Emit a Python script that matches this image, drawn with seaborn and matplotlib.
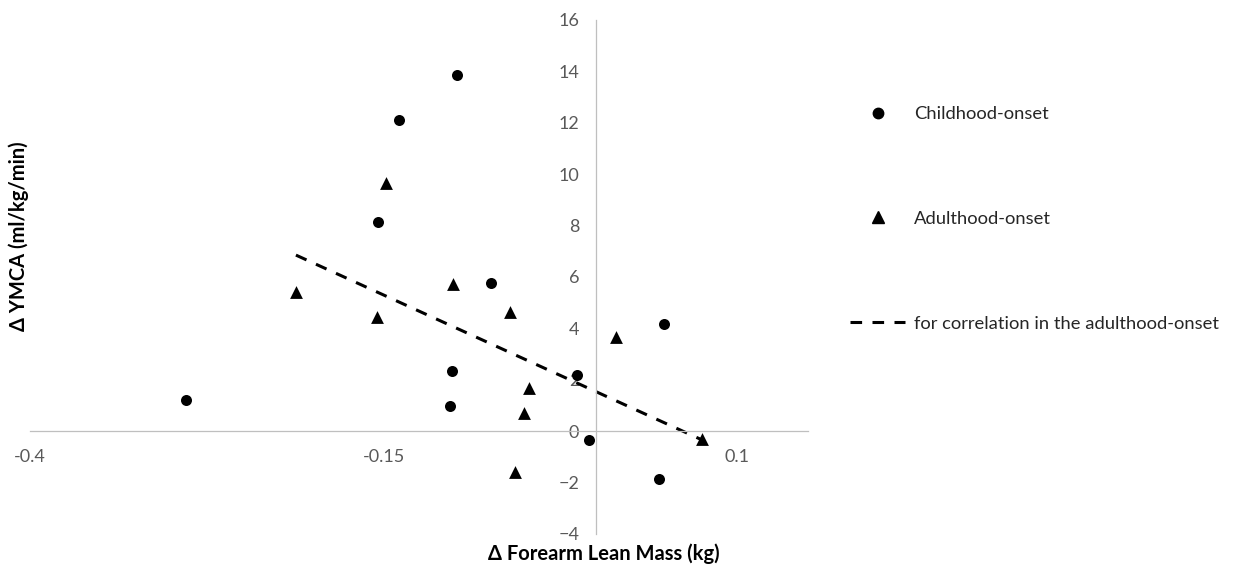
import numpy as np
import pandas as pd
import matplotlib
matplotlib.use("Agg")
import matplotlib.pyplot as plt
import seaborn as sns
from matplotlib.lines import Line2D

# Change in forearm lean mass (kg) vs change in YMCA score (ml/kg/min)
child_x = [-0.290, -0.098, -0.139, -0.154, -0.074, -0.102, -0.103, -0.013, -0.005, 0.048, 0.045]
child_y = [1.21, 13.86, 12.10, 8.15, 5.75, 2.34, 0.97, 2.18, -0.36, 4.16, -1.87]

adult_x = [-0.212, -0.148, -0.155, -0.101, -0.061, -0.047, -0.051, -0.057, 0.014, 0.075]
adult_y = [5.40, 9.67, 4.43, 5.71, 4.62, 1.70, 0.71, -1.58, 3.67, -0.30]

x_ticks = [-0.4, -0.15, 0.1]
x_tick_labels = ["-0.4", "-0.15", "0.1"]
y_ticks = [-4, -2, 0, 2, 4, 6, 8, 10, 12, 14, 16]

group_labels = ["Childhood-onset", "Adulthood-onset",
                "for correlation in the adulthood-onset"]

sns.set_theme(style="white")
plt.rcParams["font.family"] = ["Lato", "DejaVu Sans"]

W, H = 1234, 565
fig = plt.figure(figsize=(W / 100, H / 100), dpi=100)
ax = fig.add_axes([30 / W, 1 - 534 / H, 778 / W, 514 / H])

df_child = pd.DataFrame({"x": child_x, "y": child_y})
df_adult = pd.DataFrame({"x": adult_x, "y": adult_y})

sns.scatterplot(data=df_child, x="x", y="y", marker="o", color="black",
                s=63, linewidth=0, ax=ax, zorder=3)
sns.scatterplot(data=df_adult, x="x", y="y", marker="^", color="black",
                s=85, linewidth=0, ax=ax, zorder=3)

# Linear fit through the adulthood-onset group
dash = (0, (3.8, 3.4))
fit_lw = 2.2
sns.regplot(data=df_adult, x="x", y="y", scatter=False, ci=None, truncate=True,
            line_kws=dict(color="black", lw=fit_lw, linestyle=dash), ax=ax)

ax.set_xlim(-0.4, 0.15)
ax.set_ylim(-4, 16)
ax.set_xticks(x_ticks)
ax.set_xticklabels(x_tick_labels)
ax.set_yticks(y_ticks)
ax.set_xlabel("")
ax.set_ylabel("")

for side in ["top", "right"]:
    ax.spines[side].set_visible(False)
ax.spines["left"].set_position(("data", 0))
ax.spines["bottom"].set_position(("data", 0))
for side in ["left", "bottom"]:
    ax.spines[side].set_color("#bfbfbf")
    ax.spines[side].set_linewidth(0.9)

ax.tick_params(axis="both", length=0, labelsize=13, labelcolor="#595959")
ax.tick_params(axis="y", pad=12)
ax.tick_params(axis="x", pad=13)
ax.patch.set_alpha(0)

fig.text(604 / W, 1 - 554 / H, "Δ Forearm Lean Mass (kg)", ha="center", va="center",
         fontsize=14.5, fontweight="bold", color="black")
fig.text(19 / W, 1 - 236 / H, "Δ YMCA (ml/kg/min)", ha="center", va="center",
         rotation=90, fontsize=14.5, fontweight="bold", color="black")

handles = [
    Line2D([], [], marker="o", color="black", linestyle="none", markersize=7.5),
    Line2D([], [], marker="^", color="black", linestyle="none", markersize=9),
    Line2D([], [], color="black", lw=fit_lw, linestyle=dash),
]
fig.legend(handles, group_labels, loc="upper left",
           bbox_to_anchor=(850 / W, 1 - 106 / H), frameon=False, fontsize=13.2,
           labelspacing=4.85, handlelength=3.0, handletextpad=0.5, borderpad=0,
           borderaxespad=0, labelcolor="#262626")

fig.savefig("out.png", dpi=100)
